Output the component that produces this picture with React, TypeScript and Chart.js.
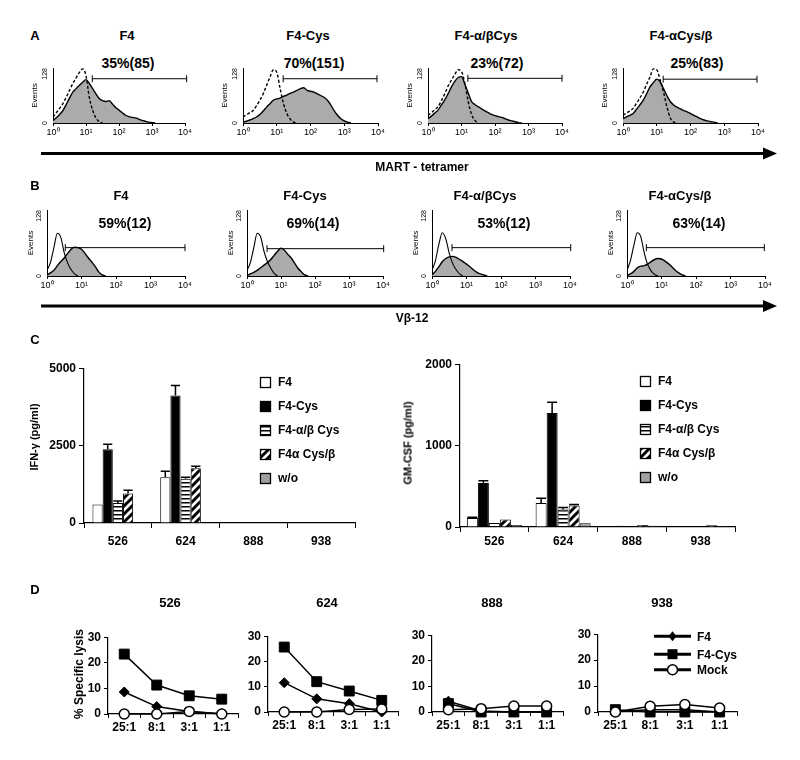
import React, { useEffect, useRef } from 'react';
import { Chart, registerables } from 'chart.js';
Chart.register(...registerables);

const FONT = '"Liberation Sans", Arial, Helvetica, sans-serif';

// ---------- Panel A / B : flow histograms (x = log10 fluorescence) ----------
const BINS = [0, 0.1, 0.2, 0.3, 0.4, 0.5, 0.6, 0.7, 0.8, 0.9, 1.0, 1.1, 1.2, 1.3, 1.4, 1.5, 1.6, 1.7, 1.8, 1.9, 2.0, 2.1, 2.2, 2.3, 2.4, 2.5, 2.6, 2.7, 2.8, 2.9, 3.0, 3.1, 3.2, 3.3];
const DECADE_LABELS = ['10⁰', '10¹', '10²', '10³', '10⁴'];
const HIST_TITLES = ['F4', 'F4-Cys', 'F4-α/βCys', 'F4-αCys/β'];

const A_PCT = ['35%(85)', '70%(151)', '23%(72)', '25%(83)'];
const A_F4 = [6, 12, 20, 29, 43, 58, 72, 80, 88, 95, 101, 92, 80, 68, 57, 52, 50, 52, 44, 36, 30, 24, 18, 15, 13, 12, 9, 6, 4, 2, 1, 0];
const A_F4_CTRL = [14, 24, 34, 45, 60, 76, 92, 105, 118, 126, 110, 60, 30, 12, 3, 0];
const A_CYS = [2, 4, 7, 10, 14, 20, 28, 37, 45, 53, 56, 58, 62, 65, 69, 72, 76, 80, 82, 76, 74, 72, 68, 64, 60, 53, 42, 29, 18, 10, 5, 2, 0];
const A_CYS_CTRL = [14, 19, 24, 29, 40, 53, 68, 88, 107, 124, 118, 80, 45, 22, 9, 2, 0];
const A_ABCYS = [10, 16, 23, 30, 42, 54, 68, 84, 97, 106, 108, 90, 70, 50, 43, 38, 33, 28, 24, 20, 17, 15, 13, 10, 7, 5, 3, 1, 0];
const A_ABCYS_CTRL = [18, 24, 31, 38, 52, 68, 86, 100, 113, 124, 120, 92, 50, 20, 6, 0];
const A_ACYSB = [10, 14, 18, 22, 32, 42, 53, 68, 84, 94, 102, 96, 80, 64, 50, 42, 37, 33, 29, 26, 22, 18, 14, 10, 7, 5, 3, 2, 0];
const A_ACYSB_CTRL = [18, 23, 28, 34, 46, 58, 72, 90, 107, 126, 124, 100, 72, 38, 12, 2, 0];
const A_GATE_FROM = [1.19, 1.19, 1.19, 1.19];
const A_GATE_TO = [4.05, 3.97, 4.0, 3.97];
const A_GATE_AT = [103, 103, 104, 102];

const B_PCT = ['59%(12)', '69%(14)', '53%(12)', '63%(14)'];
const B_F4 = [2, 6, 11, 20, 28, 35, 44, 52, 56, 55, 52, 44, 35, 27, 18, 8, 2, 0];
const B_F4_CTRL = [11, 26, 55, 83, 75, 45, 25, 12, 4, 0];
const B_CYS = [1, 4, 7, 11, 16, 21, 26, 32, 40, 48, 54, 50, 42, 35, 25, 15, 8, 2, 0];
const B_CYS_CTRL = [11, 26, 55, 83, 76, 48, 28, 15, 5, 0];
const B_ABCYS = [2, 9, 18, 28, 34, 37, 38, 36, 32, 28, 23, 18, 12, 7, 4, 2, 0];
const B_ABCYS_CTRL = [11, 30, 62, 84, 72, 44, 24, 12, 4, 0];
const B_ACYSB = [1, 4, 9, 16, 19, 20, 23, 28, 32, 34, 33, 29, 24, 18, 11, 6, 2, 0];
const B_ACYSB_CTRL = [11, 30, 60, 84, 76, 45, 22, 10, 3, 0];
const B_GATE_FROM = [0.53, 0.59, 0.58, 0.56];
const B_GATE_TO = [4.0, 4.02, 4.02, 3.98];
const B_GATE_AT = [55, 53, 55, 55];

// ---------- Panel C : cytokine release ----------
const C_CATS = ['526', '624', '888', '938'];
const C_SERIES = ['F4', 'F4-Cys', 'F4-α/β Cys', 'F4α Cys/β', 'w/o'];
const IFN_F4 = [600, 1480, 0, 0];
const IFN_CYS = [2380, 4120, 0, 0];
const IFN_ABCYS = [650, 1430, 0, 0];
const IFN_ACYSB = [950, 1770, 0, 0];
const IFN_WO = [0, 0, 0, 0];
const IFN_F4_ERR = [0, 190, 0, 0];
const IFN_CYS_ERR = [160, 320, 0, 0];
const IFN_ABCYS_ERR = [60, 50, 0, 0];
const IFN_ACYSB_ERR = [110, 60, 0, 0];
const IFN_WO_ERR = [0, 0, 0, 0];
const GM_F4 = [110, 296, 0, 8];
const GM_CYS = [540, 1400, 15, 12];
const GM_ABCYS = [50, 215, 5, 8];
const GM_ACYSB = [93, 265, 25, 20];
const GM_WO = [25, 45, 15, 10];
const GM_F4_ERR = [10, 57, 0, 0];
const GM_CYS_ERR = [28, 134, 0, 0];
const GM_ABCYS_ERR = [0, 25, 0, 0];
const GM_ACYSB_ERR = [0, 10, 0, 0];
const GM_WO_ERR = [0, 0, 0, 0];

// ---------- Panel D : cytotoxicity ----------
const D_RATIOS = ['25:1', '8:1', '3:1', '1:1'];
const D_LINES = ['F4', 'F4-Cys', 'Mock'];
const D_TARGETS = ['526', '624', '888', '938'];
const LYSIS_526_F4 = [8.6, 2.9, 1.0, 0.1];
const LYSIS_526_CYS = [23.4, 11.3, 7.1, 5.8];
const LYSIS_526_MOCK = [0, 0, 1.0, 0];
const LYSIS_624_F4 = [11.6, 5.2, 3.3, 0];
const LYSIS_624_CYS = [25.7, 12.0, 8.3, 4.6];
const LYSIS_624_MOCK = [0, 0, 1.0, 1.2];
const LYSIS_888_F4 = [4.2, 0.4, 0, 0];
const LYSIS_888_CYS = [3.3, 0, 0, 0];
const LYSIS_888_MOCK = [0.9, 1.3, 2.3, 2.3];
const LYSIS_938_F4 = [0.2, 0.9, 0.9, 0];
const LYSIS_938_CYS = [0.9, 0, 0, 0];
const LYSIS_938_MOCK = [0, 2.2, 2.9, 1.5];

// ---------- layout helpers ----------
type Rect = { l: number; t: number; r: number; b: number };
type Margins = { yW: number; xH: number; pl: number; pr: number; pt: number; pb: number };

function ChartCanvas({ plot, m, build }: { plot: Rect; m: Margins; build: () => any }) {
  const ref = useRef<HTMLCanvasElement>(null);
  const left = plot.l - m.yW - m.pl;
  const top = plot.t - m.pt;
  const width = plot.r + m.pr - left;
  const height = plot.b + m.xH + m.pb - top;
  useEffect(() => {
    const cfg = build();
    cfg.options.responsive = false;
    cfg.options.maintainAspectRatio = false;
    cfg.options.animation = false;
    cfg.options.devicePixelRatio = 1;
    cfg.options.layout = { padding: { left: m.pl, right: m.pr, top: m.pt, bottom: m.pb } };
    cfg.options.scales.x.afterFit = (s: any) => { s.height = m.xH; };
    cfg.options.scales.y.afterFit = (s: any) => { s.width = m.yW; };
    const chart = new Chart(ref.current as HTMLCanvasElement, cfg);
    return () => chart.destroy();
  }, []);
  return <canvas ref={ref} width={width} height={height} style={{ position: 'absolute', left, top, width, height }} />;
}

function T({ x, y, s, size = 12, bold = true, rot = 0 }: { x: number; y: number; s: string; size?: number; bold?: boolean; rot?: number }) {
  return (
    <div style={{ position: 'absolute', left: x, top: y, transform: `translate(-50%,-50%) rotate(${rot}deg)`, font: `${bold ? 'bold ' : ''}${size}px ${FONT}`, whiteSpace: 'nowrap', color: '#000', lineHeight: 1 }}>{s}</div>
  );
}

function Arrow({ x0, x1, y }: { x0: number; x1: number; y: number }) {
  return (
    <svg style={{ position: 'absolute', left: 0, top: 0 }} width={800} height={760}>
      <line x1={x0} y1={y} x2={x1 - 12} y2={y} stroke="#000" strokeWidth={3} />
      <polygon points={`${x1 - 14},${y - 6} ${x1},${y} ${x1 - 14},${y + 6}`} fill="#000" />
    </svg>
  );
}

const plotOff = { legend: { display: false }, tooltip: { enabled: false }, title: { display: false } };
const plain = (v: any) => String(v);

function histLabels(titleDx: number, tickDx: number) {
  return {
    id: 'histLabels',
    afterDraw(chart: any) {
      const { ctx, chartArea, scales } = chart;
      const y = scales.y;
      const put = (txt: string, x: number, yy: number, size: number, align: CanvasTextAlign) => {
        ctx.save();
        ctx.translate(x, yy);
        ctx.rotate(-Math.PI / 2);
        ctx.font = `${size}px ${FONT}`;
        ctx.fillStyle = '#000';
        ctx.textAlign = align;
        ctx.textBaseline = 'middle';
        ctx.fillText(txt, 0, 0);
        ctx.restore();
      };
      put('128', chartArea.left + tickDx, y.getPixelForValue(128), 7, 'right');
      put('0', chartArea.left + tickDx, y.getPixelForValue(0), 7, 'center');
      put('Events', chartArea.left + titleDx, (chartArea.top + chartArea.bottom) / 2, 8, 'center');
    },
  };
}

function histBuild(stained: number[], ctrl: number[], gFrom: number, gTo: number, gAt: number, dashed: boolean, titleDx: number, tickDx: number) {
  return () => ({
    type: 'line',
    data: {
      datasets: [
        { data: stained.map((v, i) => ({ x: BINS[i], y: v })), borderColor: '#000', borderWidth: 1.4, backgroundColor: '#ababab', fill: 'origin', pointRadius: 0, cubicInterpolationMode: 'monotone', order: 3 },
        { data: ctrl.map((v, i) => ({ x: BINS[i], y: v })), borderColor: '#000', borderWidth: dashed ? 1.4 : 1.1, borderDash: dashed ? [3, 2] : [], fill: false, pointRadius: 0, cubicInterpolationMode: 'monotone', order: 2 },
        { data: [{ x: gFrom, y: gAt }, { x: gTo, y: gAt }], borderColor: '#000', borderWidth: 1, fill: false, pointStyle: 'line', rotation: 90, pointRadius: 3.5, pointBorderColor: '#000', pointBorderWidth: 1, order: 1, clip: false },
      ],
    },
    options: {
      plugins: plotOff,
      scales: {
        x: {
          type: 'linear', min: 0, max: 4,
          ticks: { stepSize: 1, callback: (v: number) => DECADE_LABELS[Math.round(v)] ?? '', font: { family: FONT, size: 9 }, color: '#000', padding: 1, maxRotation: 0, autoSkip: false },
          grid: { display: true, drawOnChartArea: false, drawTicks: true, tickLength: 3, color: '#000' },
          border: { color: '#000', width: 1 },
        },
        y: {
          type: 'linear', min: 0, max: 128,
          ticks: { display: false },
          afterBuildTicks: (s: any) => { s.ticks = [{ value: 0 }, { value: 128 }]; },
          grid: { display: false },
          border: { color: '#000', width: 1 },
        },
      },
    },
    plugins: [histLabels(titleDx, tickDx)],
  });
}

function makeHStripe() {
  const c = document.createElement('canvas');
  c.width = 4; c.height = 4;
  const g = c.getContext('2d') as CanvasRenderingContext2D;
  g.fillStyle = '#fff'; g.fillRect(0, 0, 4, 4);
  g.fillStyle = '#000'; g.fillRect(0, 0, 4, 1.5);
  return g.createPattern(c, 'repeat');
}
function makeDiag() {
  const c = document.createElement('canvas');
  c.width = 8; c.height = 8;
  const g = c.getContext('2d') as CanvasRenderingContext2D;
  g.fillStyle = '#fff'; g.fillRect(0, 0, 8, 8);
  g.strokeStyle = '#000'; g.lineWidth = 3;
  g.beginPath();
  g.moveTo(0, 8); g.lineTo(8, 0);
  g.moveTo(-4, 4); g.lineTo(4, -4);
  g.moveTo(4, 12); g.lineTo(12, 4);
  g.stroke();
  return g.createPattern(c, 'repeat');
}

function errorBars(errs: number[][]) {
  return {
    id: 'errorBars',
    afterDatasetsDraw(chart: any) {
      const { ctx } = chart;
      const ys = chart.scales.y;
      chart.data.datasets.forEach((ds: any, di: number) => {
        const meta = chart.getDatasetMeta(di);
        meta.data.forEach((bar: any, i: number) => {
          const e = errs[di][i];
          if (!e) return;
          const v = ds.data[i];
          const y0 = ys.getPixelForValue(v);
          const y1 = ys.getPixelForValue(v + e);
          const hw = bar.width * 0.45;
          ctx.save();
          ctx.strokeStyle = '#000';
          ctx.lineWidth = 1.5;
          ctx.beginPath();
          ctx.moveTo(bar.x, y0); ctx.lineTo(bar.x, y1);
          ctx.moveTo(bar.x - hw, y1); ctx.lineTo(bar.x + hw, y1);
          ctx.stroke();
          ctx.restore();
        });
      });
    },
  };
}

function boxLegend(dx: number, dys: number[]) {
  return {
    id: 'boxLegend',
    afterDraw(chart: any) {
      const { ctx, chartArea } = chart;
      ctx.save();
      chart.data.datasets.forEach((ds: any, i: number) => {
        const x = Math.round(chartArea.left + dx);
        const y = Math.round(chartArea.top + dys[i]);
        ctx.fillStyle = ds.backgroundColor;
        ctx.fillRect(x, y - 5, 11, 11);
        ctx.strokeStyle = '#000';
        ctx.lineWidth = 1.3;
        ctx.strokeRect(x + 0.5, y - 4.5, 10, 10);
        ctx.fillStyle = '#000';
        ctx.font = `bold 12px ${FONT}`;
        ctx.textAlign = 'left';
        ctx.textBaseline = 'middle';
        ctx.fillText(ds.label, x + 18, y + 1);
      });
      ctx.restore();
    },
  };
}

function barBuild(series: number[][], errs: number[][], yMax: number, yStep: number, catPct: number, xPad: number, dx: number, dys: number[]) {
  return () => {
    const fills: any[] = ['#ffffff', '#000000', makeHStripe(), makeDiag(), '#a0a0a0'];
    return {
      type: 'bar',
      data: {
        labels: C_CATS,
        datasets: series.map((vals, i) => ({
          label: C_SERIES[i], data: vals, backgroundColor: fills[i], borderColor: '#000', borderWidth: 1,
          categoryPercentage: catPct, barPercentage: 1,
        })),
      },
      options: {
        plugins: plotOff,
        scales: {
          x: {
            type: 'category',
            ticks: { font: { family: FONT, size: 12, weight: 'bold' }, color: '#000', padding: xPad },
            grid: { display: true, drawOnChartArea: false, offset: true, tickLength: 5, color: '#000' },
            border: { color: '#000', width: 1.2 },
          },
          y: {
            min: 0, max: yMax,
            ticks: { stepSize: yStep, callback: plain, font: { family: FONT, size: 12, weight: 'bold' }, color: '#000', padding: 3 },
            grid: { display: true, drawOnChartArea: false, tickLength: 5, color: '#000' },
            border: { color: '#000', width: 1.2 },
          },
        },
      },
      plugins: [errorBars(errs), boxLegend(dx, dys)],
    };
  };
}

function drawMarker(ctx: CanvasRenderingContext2D, kind: number, x: number, y: number) {
  ctx.beginPath();
  if (kind === 0) {
    ctx.moveTo(x, y - 5); ctx.lineTo(x + 4, y); ctx.lineTo(x, y + 5); ctx.lineTo(x - 4, y); ctx.closePath();
    ctx.fillStyle = '#000'; ctx.fill();
  } else if (kind === 1) {
    ctx.rect(x - 5, y - 5, 10, 10);
    ctx.fillStyle = '#000'; ctx.fill();
  } else {
    ctx.arc(x, y, 5, 0, Math.PI * 2);
    ctx.fillStyle = '#fff'; ctx.fill();
    ctx.lineWidth = 1.5; ctx.strokeStyle = '#000'; ctx.stroke();
  }
}

function lineLegend(x0: number, x1: number, tx: number, dys: number[]) {
  return {
    id: 'lineLegend',
    afterDraw(chart: any) {
      const { ctx, chartArea } = chart;
      ctx.save();
      chart.data.datasets.forEach((ds: any, i: number) => {
        const y = chartArea.top + dys[i];
        ctx.strokeStyle = '#000';
        ctx.lineWidth = 3;
        ctx.beginPath();
        ctx.moveTo(chartArea.left + x0, y); ctx.lineTo(chartArea.left + x1, y);
        ctx.stroke();
        drawMarker(ctx, i, chartArea.left + (x0 + x1) / 2, y);
        ctx.fillStyle = '#000';
        ctx.font = `bold 12px ${FONT}`;
        ctx.textAlign = 'left';
        ctx.textBaseline = 'middle';
        ctx.fillText(ds.label, chartArea.left + tx, y + 1);
      });
      ctx.restore();
    },
  };
}

function lysisBuild(f4: number[], cys: number[], mock: number[], withLegend: boolean) {
  return () => ({
    type: 'line',
    data: {
      labels: D_RATIOS,
      datasets: [
        { label: D_LINES[0], data: f4, borderColor: '#000', borderWidth: 1.5, pointStyle: 'rectRot', pointRadius: 5, pointBackgroundColor: '#000', pointBorderColor: '#000', pointBorderWidth: 1, clip: false, order: 1 },
        { label: D_LINES[1], data: cys, borderColor: '#000', borderWidth: 1.5, pointStyle: 'rect', pointRadius: 7, pointBackgroundColor: '#000', pointBorderColor: '#000', pointBorderWidth: 1, clip: false, order: 2 },
        { label: D_LINES[2], data: mock, borderColor: '#000', borderWidth: 1.5, pointStyle: 'circle', pointRadius: 5, pointBackgroundColor: '#fff', pointBorderColor: '#000', pointBorderWidth: 1.5, clip: false, order: 0 },
      ],
    },
    options: {
      plugins: plotOff,
      scales: {
        x: {
          type: 'category', offset: true,
          ticks: { font: { family: FONT, size: 12, weight: 'bold' }, color: '#000', padding: 2, maxRotation: 0, autoSkip: false },
          grid: { display: true, drawOnChartArea: false, offset: true, tickLength: 4, color: '#000' },
          border: { color: '#000', width: 1.2 },
        },
        y: {
          min: 0, max: 30,
          ticks: { stepSize: 10, callback: plain, font: { family: FONT, size: 12, weight: 'bold' }, color: '#000', padding: 3 },
          grid: { display: true, drawOnChartArea: false, tickLength: 4, color: '#000' },
          border: { color: '#000', width: 1.2 },
        },
      },
    },
    plugins: withLegend ? [lineLegend(56, 93, 99, [2, 20, 35.5])] : [],
  });
}

// ---------- positions ----------
const A_RECTS: Rect[] = [
  { l: 53, t: 68, r: 185, b: 123 },
  { l: 243, t: 68, r: 378, b: 123 },
  { l: 428, t: 68, r: 562, b: 123 },
  { l: 623, t: 68, r: 758, b: 123 },
];
const B_RECTS: Rect[] = [
  { l: 47, t: 210, r: 185, b: 276 },
  { l: 247, t: 210, r: 383, b: 276 },
  { l: 432, t: 210, r: 570, b: 276 },
  { l: 627, t: 210, r: 765, b: 276 },
];
const HIST_M: Margins = { yW: 22, xH: 16, pl: 0, pr: 12, pt: 6, pb: 2 };
const A_TITLE_X = [127, 308, 486, 681];
const A_PCT_X = [128, 314, 497, 697];
const B_TITLE_X = [121, 305, 485, 680];
const B_PCT_X = [125, 313, 504, 699];

const D_RECTS: Rect[] = [
  { l: 108, t: 635, r: 238, b: 714 },
  { l: 268, t: 634, r: 398, b: 712 },
  { l: 432, t: 633, r: 563, b: 712 },
  { l: 598, t: 632, r: 737, b: 712 },
];
const D_TITLE_X = [170, 327, 492, 662];
const D_M: Margins = { yW: 34, xH: 22, pl: 0, pr: 12, pt: 8, pb: 2 };

export default function App() {
  const aSets = [
    [A_F4, A_F4_CTRL], [A_CYS, A_CYS_CTRL], [A_ABCYS, A_ABCYS_CTRL], [A_ACYSB, A_ACYSB_CTRL],
  ];
  const bSets = [
    [B_F4, B_F4_CTRL], [B_CYS, B_CYS_CTRL], [B_ABCYS, B_ABCYS_CTRL], [B_ACYSB, B_ACYSB_CTRL],
  ];
  const lysis = [
    [LYSIS_526_F4, LYSIS_526_CYS, LYSIS_526_MOCK],
    [LYSIS_624_F4, LYSIS_624_CYS, LYSIS_624_MOCK],
    [LYSIS_888_F4, LYSIS_888_CYS, LYSIS_888_MOCK],
    [LYSIS_938_F4, LYSIS_938_CYS, LYSIS_938_MOCK],
  ];
  return (
    <div style={{ position: 'absolute', left: 0, top: 0, width: 800, height: 760, background: '#fff', overflow: 'hidden' }}>
      {/* Panel A */}
      <T x={35} y={35} s="A" size={13} />
      {HIST_TITLES.map((t, i) => <T key={'at' + i} x={A_TITLE_X[i]} y={35} s={t} size={13} />)}
      {A_PCT.map((t, i) => <T key={'ap' + i} x={A_PCT_X[i]} y={63} s={t} size={14} />)}
      {A_RECTS.map((r, i) => (
        <ChartCanvas key={'ah' + i} plot={r} m={HIST_M}
          build={histBuild(aSets[i][0], aSets[i][1], A_GATE_FROM[i], A_GATE_TO[i], A_GATE_AT[i], true, -18, -8)} />
      ))}
      <Arrow x0={41} x1={777} y={153.5} />
      <T x={422} y={167} s="MART - tetramer" size={12} />

      {/* Panel B */}
      <T x={35} y={185} s="B" size={13} />
      {HIST_TITLES.map((t, i) => <T key={'bt' + i} x={B_TITLE_X[i]} y={195} s={t} size={13} />)}
      {B_PCT.map((t, i) => <T key={'bp' + i} x={B_PCT_X[i]} y={223} s={t} size={14} />)}
      {B_RECTS.map((r, i) => (
        <ChartCanvas key={'bh' + i} plot={r} m={HIST_M}
          build={histBuild(bSets[i][0], bSets[i][1], B_GATE_FROM[i], B_GATE_TO[i], B_GATE_AT[i], false, -16, -8)} />
      ))}
      <Arrow x0={41} x1={777} y={306} />
      <T x={412} y={318} s="Vβ-12" size={12} />

      {/* Panel C */}
      <T x={35} y={339} s="C" size={13} />
      <ChartCanvas plot={{ l: 84, t: 366, r: 355, b: 523 }} m={{ yW: 52, xH: 28, pl: 0, pr: 10, pt: 8, pb: 2 }}
        build={barBuild([IFN_F4, IFN_CYS, IFN_ABCYS, IFN_ACYSB, IFN_WO], [IFN_F4_ERR, IFN_CYS_ERR, IFN_ABCYS_ERR, IFN_ACYSB_ERR, IFN_WO_ERR], 5000, 2500, 0.75, 6, 176, [14, 38, 62, 86, 110])} />
      <T x={34} y={437} s="IFN-γ (pg/ml)" size={11} rot={-90} />
      <ChartCanvas plot={{ l: 460, t: 362, r: 735, b: 527 }} m={{ yW: 52, xH: 26, pl: 0, pr: 10, pt: 8, pb: 2 }}
        build={barBuild([GM_F4, GM_CYS, GM_ABCYS, GM_ACYSB, GM_WO], [GM_F4_ERR, GM_CYS_ERR, GM_ABCYS_ERR, GM_ACYSB_ERR, GM_WO_ERR], 2000, 1000, 0.8, 2, 180, [17, 41, 65, 89, 113])} />
      <T x={408} y={443} s="GM-CSF (pg/ml)" size={11} rot={-90} />

      {/* Panel D */}
      <T x={35} y={589} s="D" size={13} />
      {D_TARGETS.map((t, i) => <T key={'dt' + i} x={D_TITLE_X[i]} y={602} s={t} size={13} />)}
      <T x={79} y={674} s="% Specific lysis" size={12} rot={-90} />
      {D_RECTS.map((r, i) => (
        <ChartCanvas key={'dl' + i} plot={r} m={D_M}
          build={lysisBuild(lysis[i][0], lysis[i][1], lysis[i][2], i === 3)} />
      ))}
    </div>
  );
}
